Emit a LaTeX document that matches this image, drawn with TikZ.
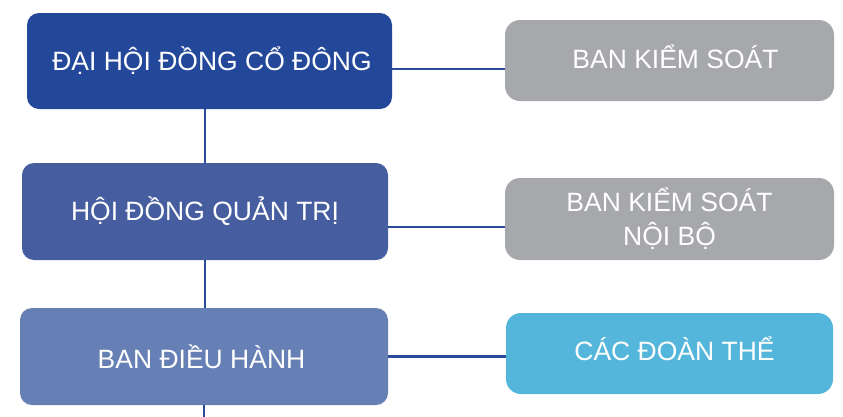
\documentclass[tikz,border=0pt]{standalone}
\usepackage{fontspec}
\setmainfont{Liberation Sans}
\definecolor{cDark}{HTML}{23489A}
\definecolor{cMid}{HTML}{465EA0}
\definecolor{cLight}{HTML}{6680B6}
\definecolor{cGray}{HTML}{A7A8AC}
\definecolor{cCyan}{HTML}{54B6DA}
\definecolor{cLine}{HTML}{2A4A9A}
\newcommand\shiftt[3]{\raisebox{#2}[\height][\depth]{\hspace*{#1}#3\hspace*{-#1}}}
\begin{document}
\begin{tikzpicture}[x=1pt,y=-1pt,
  box/.style={rectangle, rounded corners=12pt, inner sep=0pt, text=white, align=center,
    font=\fontsize{26.5}{34}\selectfont},
  link/.style={draw=cLine, line width=2.2pt}]
\useasboundingbox (0,0) rectangle (843,416);
\node[box, fill=cDark, minimum width=365pt, minimum height=96pt] (dh) at (209.5,61) {\shiftt{2.5pt}{0pt}{ĐẠI HỘI ĐỒNG CỔ ĐÔNG}};
\node[box, fill=cMid, minimum width=366pt, minimum height=97pt] (hd) at (205,211.5) {HỘI ĐỒNG QUẢN TRỊ};
\node[box, fill=cLight, minimum width=368pt, minimum height=97pt] (bd) at (204,356.5) {\shiftt{-2.5pt}{0pt}{BAN ĐIỀU HÀNH}};
\node[box, fill=cGray, rounded corners=15pt, minimum width=329pt, minimum height=81pt] (bk) at (669.5,60.5) {\shiftt{6pt}{4pt}{BAN KIỂM SOÁT}};
\node[box, fill=cGray, rounded corners=15pt, minimum width=329pt, minimum height=82pt] (bn) at (669.5,219) {BAN KIỂM SOÁT\\NỘI BỘ};
\node[box, fill=cCyan, rounded corners=15pt, minimum width=327pt, minimum height=81pt] (dt) at (669.5,353.5) {\shiftt{5pt}{5pt}{CÁC ĐOÀN THỂ}};
\coordinate (bottom) at (204,420);
\draw[link] (hd.north |- dh.south) -- (hd.north);
\draw[link] (hd.south) -- (hd.south |- bd.north);
\draw[link] (bd.south) -- (bottom);
\draw[link] ([yshift=-8pt]dh.east) -- ([yshift=-8pt]dh.east -| bk.west);
\draw[link] ([yshift=-15.5pt]hd.east) -- ([yshift=-15.5pt]hd.east -| bn.west);
\draw[link] (bd.east) -- (bd.east -| dt.west);
\end{tikzpicture}
\end{document}
